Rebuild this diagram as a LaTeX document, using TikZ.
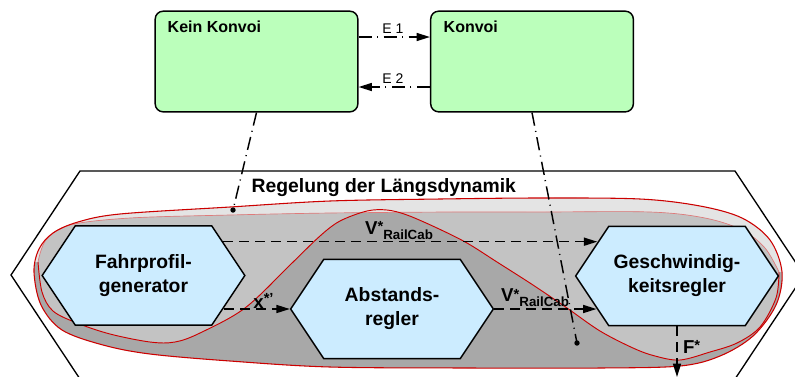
\documentclass[tikz,border=0pt]{standalone}
\usepackage{fontspec}
\setmainfont{Liberation Sans}
\usetikzlibrary{arrows.meta,calc,shapes.symbols}

\definecolor{boxgreen}{HTML}{BBFFBB}
\definecolor{hexblue}{HTML}{CCECFF}
\definecolor{bandlight}{HTML}{E4E4E4}
\definecolor{bandmid}{HTML}{C3C3C3}
\definecolor{banddark}{HTML}{A8A8A8}
\definecolor{outred}{HTML}{CC0000}
\definecolor{pinkred}{HTML}{E07A7A}

\tikzset{
  statebox/.style={draw, line width=1.1pt, rounded corners=6pt, fill=boxgreen,
    minimum width=152pt, minimum height=75.5pt, inner sep=0pt},
  hexbox/.style={shape=signal, signal to=west and east, signal pointer angle=112.6,
    draw, line width=1.1pt, fill=hexblue, minimum width=152pt, minimum height=74.5pt,
    inner sep=0pt, align=center, font=\fontsize{14.5}{18}\selectfont\bfseries},
  tip/.style={-{Triangle[length=10pt,width=6pt]}},
  flow/.style={tip, line width=1.1pt, dash pattern=on 7.5pt off 4.5pt},
  ddot/.style={line width=1.1pt, dash pattern=on 10pt off 4pt on 0.8pt off 4pt},
  elabel/.style={font=\fontsize{10.5}{12}\selectfont, inner sep=1pt},
  flabel/.style={font=\fontsize{14}{16}\selectfont\bfseries, inner sep=1pt},
}

% star and subscript helpers for the flow labels
\newcommand{\upstar}[1]{{\fontsize{11}{11}\selectfont\raisebox{0.35ex}{#1}}}
\newcommand{\lowsub}[1]{\raisebox{-0.5ex}{\fontsize{10}{10}\selectfont #1}}

% contour of the refined region
\def\blobOuter{plot[smooth cycle, tension=0.55] coordinates {
  (120,214) (230,207) (330,201) (440,199) (540,198) (640,199) (700,206) (742,218)
  (770,240) (782,272) (776,305) (753,336) (720,356) (680,366) (600,368) (470,368)
  (330,367) (230,361) (150,354) (103,345) (62,330) (41,305) (34,272) (39,249)
  (53,233) (78,222)}}
% lower edge of the highlight band
\def\bandTop{plot[smooth, tension=0.55] coordinates {
  (38,262) (46,240) (70,225) (130,218) (230,215) (330,213) (450,212) (540,212)
  (650,212) (705,218) (742,230) (765,248) (779,272)}}
% boundary between the two shaded parts
\def\sCurve{plot[smooth, tension=0.55] coordinates {
  (38,262) (42,292) (53,311) (77,323) (110,334) (150,342) (175,342) (200,333)
  (245,308) (290,265) (320,236) (340,221) (367,211) (387,210) (407,215) (437,228)
  (467,243) (497,262) (533,285) (567,308) (600,331) (633,348) (655,356) (680,360)
  (710,352) (737,343) (760,327) (776,298) (779,272)}}

\begin{document}
\begin{tikzpicture}[x=0.75pt, y=-0.75pt]
\useasboundingbox (0,0) rectangle (795,376);
\clip (0,0) rectangle (795,376);

% frame of the control function
\draw[line width=1pt] (80,171) -- (735,171) -- (804,275) -- (735,379)
  -- (80,379) -- (11,275) -- cycle;
\node[anchor=base west, font=\fontsize{14.5}{17}\selectfont\bfseries] (title)
  at (247,192) {Regelung der Längsdynamik};

% shaded region
\fill[banddark] \blobOuter;
\begin{scope}
  \clip \blobOuter;
  \fill[bandlight] \bandTop -- (800,272) -- (800,0) -- (0,0) -- (0,262) -- cycle;
  \begin{scope}
    \clip \sCurve -- (800,272) -- (800,0) -- (0,0) -- (0,262) -- cycle;
    \fill[bandmid] \bandTop -- (800,272) -- (800,400) -- (0,400) -- (0,262) -- cycle;
  \end{scope}
\end{scope}
\draw[pinkred, line width=0.5pt] \bandTop;
\draw[outred, line width=0.7pt] \sCurve;
\draw[outred, line width=0.8pt] \blobOuter;

% states
\node[statebox] (kk) at (256.5,61.5) {};
\node[statebox] (kv) at (532,61.5) {};
\node[anchor=base west, font=\fontsize{12}{14}\selectfont\bfseries] (kkt) at (163,32) {Kein Konvoi};
\node[anchor=base west, font=\fontsize{12}{14}\selectfont\bfseries] (kvt) at (439,32) {Konvoi};

\draw[ddot, tip] ($(kk.east)+(0,-24.5)$) -- ($(kv.west)+(0,-24.5)$)
  node[elabel, pos=0.48, above=1pt] {E 1};
\draw[ddot, tip] ($(kv.west)+(0,25.5)$) -- ($(kk.east)+(0,25.5)$)
  node[elabel, pos=0.52, above=1pt] {E 2};

% function blocks
\node[hexbox] (fpg) at (143.5,275.5) {Fahrprofil-\\generator};
\node[hexbox] (ab) at (392,309) {Abstands-\\regler};
\node[hexbox] (gr) at (677,276) {Geschwindig-\\keitsregler};

% information flows
\draw[flow] (fpg.23) -- (fpg.23 -| gr.157)
  node[flabel, pos=0.47, above=0pt] {V\upstar{*}\lowsub{RailCab}};
\draw[flow] (fpg.-22 |- ab.west) -- (ab.west)
  node[flabel, pos=0.6, above=-1pt] {x\upstar{\raisebox{0.25ex}{*'}}};
\draw[flow] (ab.east) -- (ab.east -| gr.202)
  node[flabel, pos=0.4, above=0pt] {V\upstar{*}\lowsub{RailCab}};
\coordinate (fout) at (677,377);
\draw[flow] (gr.south) -- (fout)
  node[flabel, pos=0.4, right=3pt] {F\upstar{*}};

% refinement links from the states
\coordinate (d1) at (233,210);
\coordinate (d2) at (577,343);
\draw[ddot] (kk.south) -- (d1);
\draw[ddot] (kv.south) -- (d2);
\fill (d1) circle[radius=2.7];
\fill (d2) circle[radius=2.7];
\end{tikzpicture}
\end{document}
